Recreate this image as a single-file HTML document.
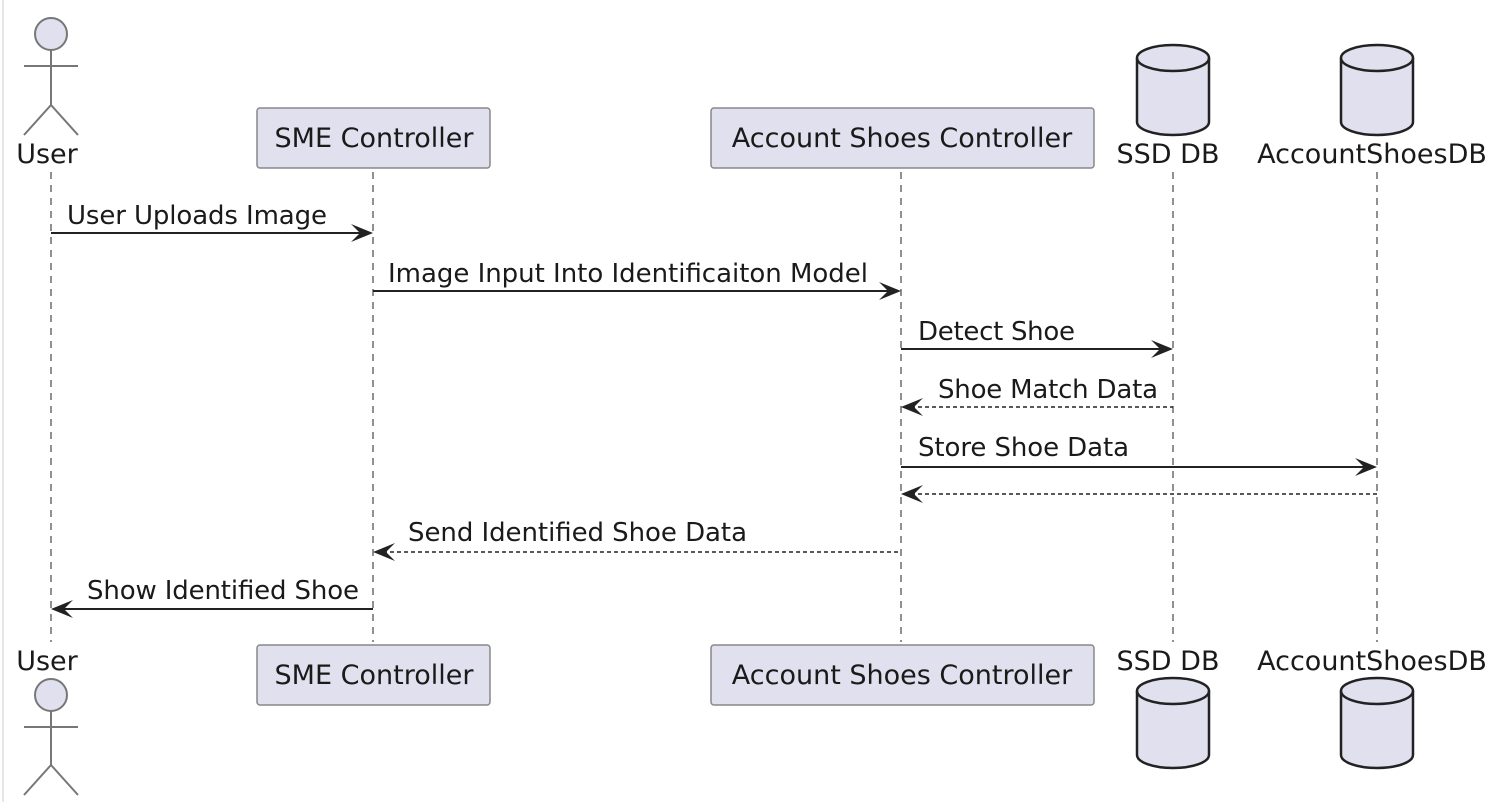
<!DOCTYPE html>
<html><head><style>body{margin:0;background:#fff}svg{display:block}</style></head><body>
<svg width="1496" height="802" viewBox="0 0 1496 802" xmlns="http://www.w3.org/2000/svg" font-family="DejaVu Sans, Liberation Sans, sans-serif" font-size="26" fill="#1a1a1a">
<rect x="0" y="0" width="1496" height="802" fill="#fff"/>
<line x1="3" y1="0" x2="3" y2="802" stroke="#e6e6e6" stroke-width="2"/>
<g stroke="#555" stroke-width="1.3" stroke-dasharray="7,6">
<line x1="51" y1="172" x2="51" y2="642"/>
<line x1="373" y1="172" x2="373" y2="642"/>
<line x1="901" y1="172" x2="901" y2="642"/>
<line x1="1173" y1="172" x2="1173" y2="642"/>
<line x1="1377" y1="172" x2="1377" y2="642"/>
</g>
<g stroke="#777" stroke-width="2" fill="none">
<circle cx="51" cy="34" r="16" fill="#e0e0ee"/>
<line x1="51" y1="50" x2="51" y2="105"/><line x1="24" y1="66" x2="78" y2="66"/>
<polyline points="24,135 51,105 78,135"/>
<circle cx="51" cy="695" r="16" fill="#e0e0ee"/>
<line x1="51" y1="711" x2="51" y2="765"/><line x1="24" y1="727" x2="78" y2="727"/>
<polyline points="24,795 51,765 78,795"/>
</g>
<g font-size="27">
<text x="47" y="163" text-anchor="middle">User</text>
<text x="47" y="670" text-anchor="middle">User</text>
</g>
<g fill="#e0e0ee" stroke="#888" stroke-width="1.5">
<rect x="257" y="108" width="233" height="60" rx="3"/>
<rect x="711" y="108" width="383" height="60" rx="3"/>
<rect x="257" y="645" width="233" height="60" rx="3"/>
<rect x="711" y="645" width="383" height="60" rx="3"/>
</g>
<g text-anchor="middle" font-size="27">
<text x="374" y="147">SME Controller</text>
<text x="902" y="147">Account Shoes Controller</text>
<text x="374" y="684">SME Controller</text>
<text x="902" y="684">Account Shoes Controller</text>
</g>
<defs>
<g id="cyl" stroke="#222" stroke-width="2.5" fill="#e0e0ee">
<path d="M-36,-32 L-36,32 A36,13 0 0 0 36,32 L36,-32 A36,13 0 0 0 -36,-32 Z"/>
<path d="M-36,-32 A36,13 0 0 0 36,-32" fill="none"/>
</g>
</defs>
<use href="#cyl" x="1173" y="90"/>
<use href="#cyl" x="1377" y="90"/>
<use href="#cyl" x="1173" y="723"/>
<use href="#cyl" x="1377" y="723"/>
<g text-anchor="middle" font-size="27">
<text x="1168" y="163">SSD DB</text>
<text x="1372" y="163">AccountShoesDB</text>
<text x="1168" y="670">SSD DB</text>
<text x="1372" y="670">AccountShoesDB</text>
</g>
<defs>
<path id="ahr" d="M0,0 L-22,-9 L-13,0 L-22,9 Z" fill="#222"/>
<path id="ahl" d="M0,0 L22,-9 L13,0 L22,9 Z" fill="#222"/>
</defs>
<g stroke="#222" stroke-width="2">
<line x1="51" y1="233" x2="370" y2="233"/>
<line x1="373" y1="291" x2="898" y2="291"/>
<line x1="901" y1="349" x2="1170" y2="349"/>
<line x1="904" y1="407" x2="1173" y2="407" stroke-dasharray="4,3" stroke-width="1.6"/>
<line x1="901" y1="467" x2="1374" y2="467"/>
<line x1="904" y1="494" x2="1377" y2="494" stroke-dasharray="4,3" stroke-width="1.6"/>
<line x1="376" y1="552" x2="901" y2="552" stroke-dasharray="4,3" stroke-width="1.6"/>
<line x1="54" y1="609" x2="373" y2="609"/>
</g>
<use href="#ahr" x="373" y="233"/>
<use href="#ahr" x="901" y="291"/>
<use href="#ahr" x="1173" y="349"/>
<use href="#ahl" x="901" y="407"/>
<use href="#ahr" x="1377" y="467"/>
<use href="#ahl" x="901" y="494"/>
<use href="#ahl" x="373" y="552"/>
<use href="#ahl" x="51" y="609"/>
<text x="67" y="224" textLength="260">User Uploads Image</text>
<text x="388" y="282" textLength="480">Image Input Into Identificaiton Model</text>
<text x="918" y="340" textLength="157">Detect Shoe</text>
<text x="938" y="398" textLength="220">Shoe Match Data</text>
<text x="918" y="456" textLength="211">Store Shoe Data</text>
<text x="408" y="541" textLength="339">Send Identified Shoe Data</text>
<text x="87" y="599" textLength="272">Show Identified Shoe</text>
</svg>
</body></html>
